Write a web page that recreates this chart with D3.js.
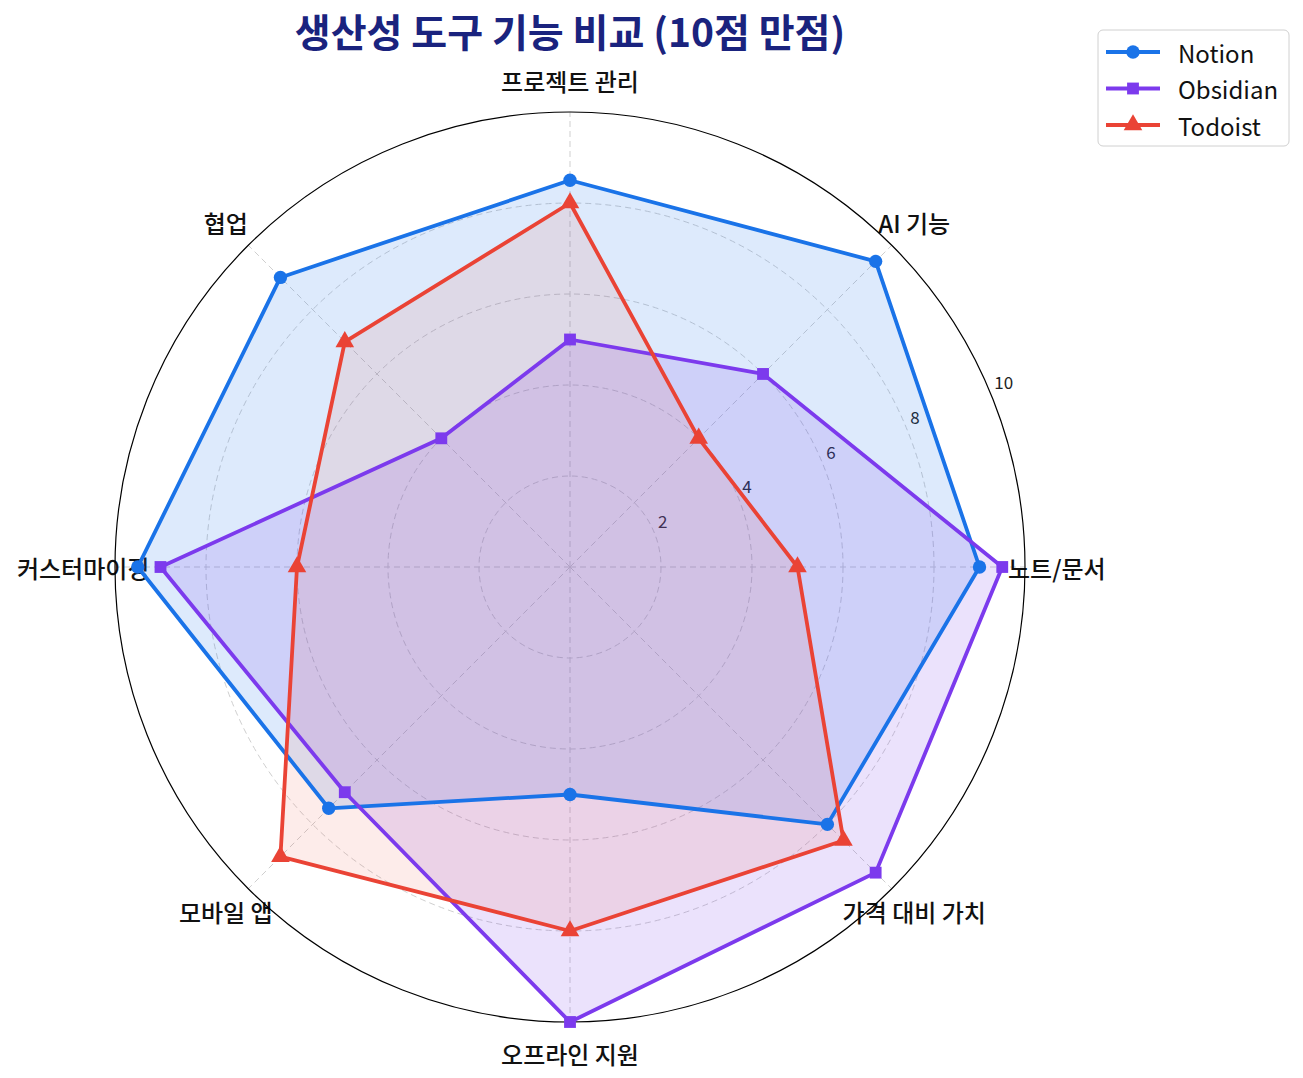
<!DOCTYPE html>
<html><head><meta charset="utf-8">
<script src="https://cdn.jsdelivr.net/npm/d3@7"></script>
<style>body{margin:0;background:#fff}svg{display:block}</style>
</head><body>
<script>
const categories = ["노트/문서","AI 기능","프로젝트 관리","협업","커스터마이징","모바일 앱","오프라인 지원","가격 대비 가치"];
const seriesNames = ["Notion","Obsidian","Todoist"];
const notion = [9, 9.5, 8.5, 9, 9.5, 7.5, 5, 8];
const obsidian = [9.5, 6, 5, 4, 9, 7, 10, 9.5];
const todoist = [5, 4, 8, 7, 6, 9, 8, 8.5];
const radialTicks = [2,4,6,8,10];
const colors = ["#1a73e8","#7c3aed","#ea4335"];
const fillOpacity = [0.15,0.15,0.1];
const markers = ["circle","square","triangle"];
const seriesValues = [notion, obsidian, todoist];

const W=1303,H=1078, cx=570, cy=567, R=455;
const svg=d3.select("body").append("svg").attr("width",W).attr("height",H);
const font="'Noto Sans CJK KR','Noto Sans',sans-serif";
const r=d3.scaleLinear().domain([0,10]).range([0,R]);
const ang=d3.scaleLinear().domain([0,categories.length]).range([0,2*Math.PI]);
const px=(i,v)=>cx+r(v)*Math.cos(ang(i));
const py=(i,v)=>cy-r(v)*Math.sin(ang(i));
const g=svg.append("g");

radialTicks.filter(t=>t<10).forEach(t=>{
  g.append("circle").attr("cx",cx).attr("cy",cy).attr("r",r(t)).attr("fill","none")
   .attr("stroke","#cfcfcf").attr("stroke-width",1).attr("stroke-dasharray","6,4");
});
categories.forEach((c,i)=>{
  g.append("line").attr("x1",cx).attr("y1",cy).attr("x2",px(i,10)).attr("y2",py(i,10))
   .attr("stroke","#cfcfcf").attr("stroke-width",1).attr("stroke-dasharray","6,4");
});
categories.forEach((c,i)=>{
  g.append("text").attr("x",px(i,10.7)).attr("y",py(i,10.7)).attr("text-anchor","middle")
   .attr("dominant-baseline","central").attr("font-family",font).attr("font-size",24)
   .attr("font-weight",500).attr("fill","#111").text(c);
});
radialTicks.forEach(t=>{
  const a=Math.PI/8;
  g.append("text").attr("x",cx+r(t)*Math.cos(a)+4).attr("y",cy-r(t)*Math.sin(a)-4)
   .attr("font-family",font).attr("font-size",17).attr("fill","#222").text(t);
});
g.append("circle").attr("cx",cx).attr("cy",cy).attr("r",R).attr("fill","none").attr("stroke","#000").attr("stroke-width",1.2);

const line=d3.lineRadial().angle((d,i)=>Math.PI/2-ang(i)).radius(d=>r(d)).curve(d3.curveLinearClosed);
const sym={circle:d3.symbolCircle,square:d3.symbolSquare,triangle:d3.symbolTriangle};
const symSize={circle:140,square:140,triangle:150};
const dg=svg.append("g").attr("transform",`translate(${cx},${cy})`);
seriesValues.forEach((vals,s)=>{
  dg.append("path").attr("d",line(vals)).attr("fill",colors[s]).attr("fill-opacity",fillOpacity[s]).attr("stroke","none");
});
seriesValues.forEach((vals,s)=>{
  dg.append("path").attr("d",line(vals)).attr("fill","none").attr("stroke",colors[s]).attr("stroke-width",3.8).attr("stroke-linejoin","round");
  vals.forEach((v,i)=>{
    dg.append("path").attr("d",d3.symbol(sym[markers[s]],symSize[markers[s]])())
      .attr("transform",`translate(${px(i,v)-cx},${py(i,v)-cy})`).attr("fill",colors[s]);
  });
});

svg.append("text").attr("x",cx).attr("y",47).attr("text-anchor","middle").attr("font-family",font)
  .attr("font-size",39).attr("font-weight",700).attr("fill","#1a237e").text("생산성 도구 기능 비교 (10점 만점)");

const lg=svg.append("g").attr("transform","translate(1098,30)");
lg.append("rect").attr("x",0).attr("y",0).attr("width",191).attr("height",116).attr("rx",5)
  .attr("fill","#fff").attr("fill-opacity",0.8).attr("stroke","#d0d0d0").attr("stroke-width",1);
seriesNames.forEach((n,s)=>{
  const y=22+s*36.5;
  lg.append("line").attr("x1",8).attr("x2",62).attr("y1",y).attr("y2",y).attr("stroke",colors[s]).attr("stroke-width",3.8);
  lg.append("path").attr("d",d3.symbol(sym[markers[s]],symSize[markers[s]])()).attr("transform",`translate(35,${y})`).attr("fill",colors[s]);
  lg.append("text").attr("x",80).attr("y",y).attr("dominant-baseline","central").attr("font-family",font)
    .attr("font-size",24).attr("fill","#111").text(n);
});
</script>
</body></html>
